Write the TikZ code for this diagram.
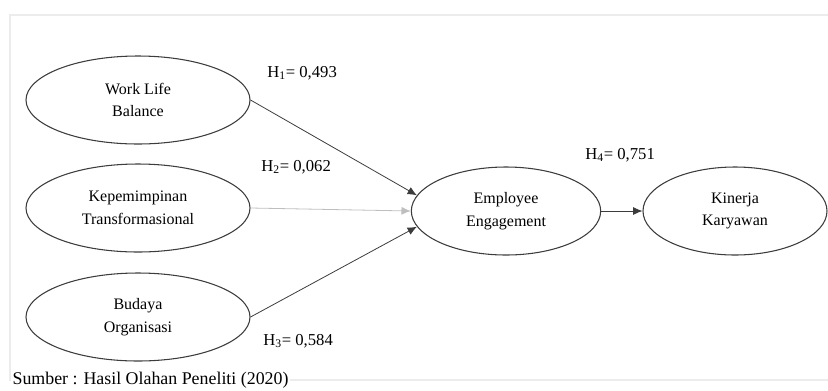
\documentclass[tikz,border=0pt]{standalone}
\usepackage{fontspec}
\setmainfont{Liberation Serif}
\usepackage{tikz}
\usetikzlibrary{shapes.geometric, arrows.meta, positioning}
\definecolor{framegray}{RGB}{236, 236, 236}
\definecolor{linegray}{RGB}{60, 60, 60}
\definecolor{lightline}{RGB}{190, 190, 190}

\begin{document}
\begin{tikzpicture}[
    x=0.75pt, y=-0.75pt,
    construct/.style={ellipse, draw=linegray, line width=0.8pt, minimum width=168pt, minimum height=66pt, align=center, font=\fontsize{12}{17}\selectfont, inner sep=0pt},
    hlabel/.style={font=\fontsize{12.5}{14}\selectfont, anchor=west, inner sep=0pt},
    arrow/.style={-{Latex[length=7pt,width=6pt]}, line width=0.6pt, draw=linegray}
]
\useasboundingbox (0,0) rectangle (828,390);
% Frame
\draw[framegray, line width=1.5pt] (835,15) -- (10,15) -- (10,380) -- (835,380);

% Exogenous constructs
\node[construct] (wlb) at (138,100) {Work Life\\Balance};
\node[construct] (kepemimpinan) at (138,208) {Kepemimpinan\\Transformasional};
\node[construct] (budaya) at (138,317) {Budaya\\Organisasi};

% Mediator and outcome
\node[construct, minimum width=142pt] (engagement) at (506,211) {Employee\\Engagement};
\node[construct, minimum width=138pt] (kinerja) at (735,211) {Kinerja\\Karyawan};

% Paths
\draw[arrow] (wlb.east) -- (engagement.170);
\draw[arrow, draw=lightline] (kepemimpinan.east) -- (engagement.west);
\draw[arrow] (budaya.east) -- (engagement.190);
\draw[arrow] (engagement) -- (kinerja);

% Coefficients
\node[hlabel] (h1) at (267,73) {H\textsubscript{1}= 0,493};
\node[hlabel] (h2) at (261,167) {H\textsubscript{2}= 0,062};
\node[hlabel] (h3) at (263,341) {H\textsubscript{3}= 0,584};
\node[hlabel] (h4) at (585,155) {H\textsubscript{4}= 0,751};

% Source
\node[font=\fontsize{13.4}{15}\selectfont, anchor=west, fill=white, inner sep=1pt] (sumber) at (11,380) {Sumber : Hasil Olahan Peneliti (2020)};
\end{tikzpicture}
\end{document}
